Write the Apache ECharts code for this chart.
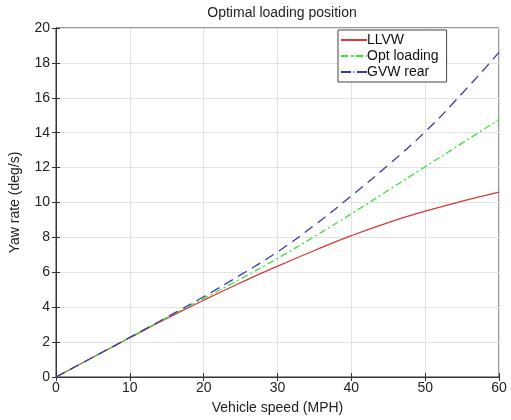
<!DOCTYPE html>
<html>
<head>
<meta charset="utf-8">
<script src="https://cdn.jsdelivr.net/npm/echarts@6/dist/echarts.min.js"></script>
<style>
html, body { margin: 0; padding: 0; background: #fff; }
#grafico { width: 511px; height: 420px; }
</style>
</head>
<body>
<div id="grafico"></div>
<script>
var speed = [0, 5, 10, 15, 20, 25, 30, 35, 40, 45, 50, 55, 60];
var llvw = [0, 1.13, 2.25, 3.35, 4.4, 5.4, 6.35, 7.25, 8.1, 8.85, 9.5, 10.08, 10.6];
var optLoading = [0, 1.13, 2.26, 3.4, 4.5, 5.62, 6.8, 8.05, 9.35, 10.7, 12.05, 13.4, 14.75];
var gvwRear = [0, 1.13, 2.27, 3.42, 4.6, 5.85, 7.17, 8.7, 10.38, 12.15, 14.05, 16.25, 18.6];
var seriesNames = ['LLVW', 'Opt loading', 'GVW rear'];

function pairs(ys) {
    return speed.map(function (x, i) { return [x, ys[i]]; });
}

var dom = document.getElementById("grafico");
var myChart = echarts.init(dom);
var font = 'Liberation Sans, Arial, sans-serif';
var gridLine = { show: true, lineStyle: { color: '#e2e2e2', width: 1 } };

var option = {
    backgroundColor: '#fff',
    animation: false,
    title: {
        text: 'Optimal loading position',
        left: 277, textAlign: 'center', top: 1,
        textStyle: { fontFamily: font, fontWeight: 'normal', fontSize: 14, color: '#222' }
    },
    legend: {
        data: seriesNames,
        orient: 'vertical',
        left: 338, top: 30,
        itemWidth: 26, itemHeight: 2, itemGap: 2,
        padding: [3, 8, 3, 2],
        borderColor: '#444', borderWidth: 1,
        backgroundColor: '#fff',
        textStyle: { fontFamily: font, fontSize: 14, color: '#111', padding: [0, 0, 0, -5] }
    },
    grid: { left: 55, right: 12, top: 28, bottom: 41, show: true, borderColor: '#333', borderWidth: 1 },
    xAxis: [{
        type: 'value', min: 0, max: 60, interval: 10,
        name: 'Vehicle speed (MPH)', nameLocation: 'middle', nameGap: 24,
        nameTextStyle: { fontFamily: font, fontSize: 14, color: '#222' },
        axisLine: { lineStyle: { color: '#333' } },
        axisTick: { inside: true, length: 4, lineStyle: { color: '#333' } },
        axisLabel: { fontFamily: font, fontSize: 14, color: '#222', margin: 4 },
        splitLine: gridLine
    }, {
        type: 'value', min: 0, max: 60, interval: 10, position: 'top',
        axisLine: { show: false },
        axisTick: { inside: true, length: 4, lineStyle: { color: '#333' } },
        axisLabel: { show: false }, splitLine: { show: false }
    }],
    yAxis: [{
        type: 'value', min: 0, max: 20, interval: 2,
        name: 'Yaw rate (deg/s)', nameLocation: 'middle', nameGap: 34,
        nameTextStyle: { fontFamily: font, fontSize: 14, color: '#222' },
        axisLine: { lineStyle: { color: '#333' } },
        axisTick: { inside: true, length: 4, lineStyle: { color: '#333' } },
        axisLabel: { fontFamily: font, fontSize: 14, color: '#222', margin: 6 },
        splitLine: gridLine
    }, {
        type: 'value', min: 0, max: 20, interval: 2, position: 'right',
        axisLine: { show: false },
        axisTick: { inside: true, length: 4, lineStyle: { color: '#333' } },
        axisLabel: { show: false }, splitLine: { show: false }
    }],
    series: [
        {
            name: seriesNames[0], type: 'line', data: pairs(llvw), smooth: true,
            symbol: 'none', color: '#d43a3a',
            lineStyle: { width: 1.3, type: 'solid' }
        },
        {
            name: seriesNames[1], type: 'line', data: pairs(optLoading), smooth: true,
            symbol: 'none', color: '#3ede3e',
            lineStyle: { width: 1.3, type: [7, 3, 2, 3] }
        },
        {
            name: seriesNames[2], type: 'line', data: pairs(gvwRear), smooth: true,
            symbol: 'none', color: '#3a3aaa',
            lineStyle: { width: 1.3, type: [10, 6] }
        }
    ]
};

if (option && typeof option === "object") {
    myChart.setOption(option, true);
}
</script>
</body>
</html>
